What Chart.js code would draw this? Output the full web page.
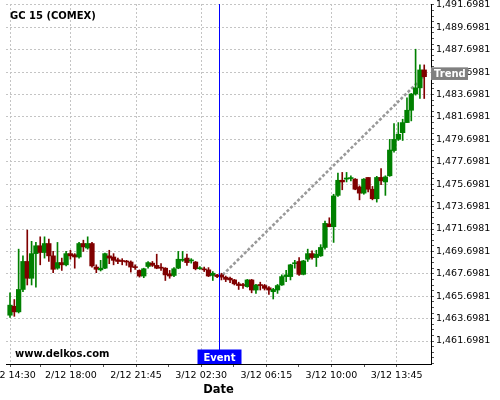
<!DOCTYPE html>
<html>
<head>
<meta charset="utf-8">
<title>GC 15 (COMEX)</title>
<script src="https://cdn.jsdelivr.net/npm/chart.js@4/dist/chart.umd.min.js"></script>
<style>
    html, body { margin: 0; padding: 0; background: #ffffff; }
    canvas { display: block; }
</style>
</head>
<body>
<canvas id="chart" width="500" height="400"></canvas>
<script>
// Candle values, one entry per 15 minute bar
const openVals = [
    1464.0, 1464.8, 1464.3, 1466.3, 1468.8, 1467.3, 1469.5, 1470.2, 1469.6, 1470.4,
    1469.3, 1468.2, 1468.7, 1468.5, 1469.5, 1469.4, 1469.2, 1470.4, 1470.0, 1470.4,
    1468.3, 1468.05, 1468.2, 1469.3, 1469.2, 1468.95, 1468.85, 1468.8, 1468.75, 1468.3,
    1468.0, 1467.5, 1468.35, 1468.65, 1468.45, 1468.25, 1468.2, 1467.7, 1467.55, 1468.2,
    1468.9, 1469.1, 1468.85, 1468.75, 1468.15, 1468.1, 1468.05, 1467.55, 1467.6, 1467.6,
    1467.4, 1467.3, 1467.15, 1466.8, 1466.7, 1466.55, 1467.15, 1466.25, 1466.7, 1466.65,
    1466.45, 1466.1, 1466.25, 1466.7, 1467.45, 1467.45, 1468.6, 1468.8, 1467.65, 1469.0,
    1469.5, 1469.15, 1469.3, 1470.05, 1472.15, 1471.9, 1474.7, 1476.05, 1476.15, 1476.2,
    1476.15, 1475.45, 1474.9, 1476.3, 1475.25, 1474.4, 1476.3, 1475.9, 1476.45, 1478.7,
    1479.7, 1480.3, 1481.2, 1482.3, 1483.75, 1484.3, 1485.9
];
const highVals = [
    1466.0, 1465.4, 1469.9, 1469.3, 1471.6, 1470.6, 1470.5, 1471.0, 1471.0, 1470.8,
    1469.7, 1470.5, 1469.1, 1469.7, 1469.8, 1469.5, 1470.5, 1470.7, 1471.0, 1470.5,
    1468.5, 1468.9, 1469.55, 1469.8, 1469.5, 1469.1, 1469.05, 1468.9, 1468.85, 1468.5,
    1468.05, 1468.2, 1468.8, 1468.8, 1469.45, 1468.6, 1468.25, 1468.0, 1468.25, 1469.7,
    1469.7, 1469.45, 1469.05, 1468.8, 1468.35, 1468.3, 1468.25, 1467.9, 1467.65, 1467.75,
    1467.5, 1467.4, 1467.2, 1466.95, 1466.85, 1467.2, 1467.2, 1466.75, 1466.95, 1466.75,
    1466.55, 1466.4, 1466.75, 1467.6, 1468.0, 1468.55, 1468.9, 1469.15, 1468.9, 1469.9,
    1469.75, 1469.8, 1470.3, 1472.4, 1472.7, 1474.8, 1476.7, 1476.75, 1476.75, 1476.45,
    1476.2, 1475.55, 1476.2, 1476.3, 1475.5, 1476.4, 1477.1, 1476.45, 1479.7, 1481.1,
    1481.2, 1481.5, 1483.4, 1483.8, 1487.75, 1486.35, 1486.35
];
const lowVals = [
    1463.8, 1463.9, 1464.2, 1466.1, 1466.7, 1466.7, 1466.5, 1468.5, 1469.1, 1468.8,
    1467.8, 1468.1, 1468.0, 1468.4, 1469.0, 1468.2, 1469.1, 1469.7, 1469.9, 1468.3,
    1467.8, 1467.95, 1468.15, 1468.6, 1468.5, 1468.6, 1468.5, 1468.45, 1467.85, 1468.1,
    1467.4, 1467.35, 1468.2, 1468.35, 1468.15, 1468.0, 1467.1, 1467.3, 1467.45, 1468.15,
    1468.8, 1468.45, 1468.65, 1468.05, 1468.1, 1467.9, 1467.45, 1467.1, 1467.35, 1467.15,
    1467.0, 1466.9, 1466.7, 1466.3, 1466.4, 1466.5, 1466.0, 1465.95, 1466.25, 1466.25,
    1465.85, 1465.45, 1465.95, 1466.65, 1467.0, 1467.15, 1468.2, 1467.55, 1467.6, 1468.8,
    1469.0, 1468.35, 1469.25, 1469.9, 1471.9, 1470.5, 1474.6, 1475.2, 1475.9, 1476.0,
    1475.2, 1474.3, 1474.8, 1475.0, 1474.3, 1474.1, 1475.65, 1474.7, 1476.4, 1478.55,
    1479.6, 1479.6, 1481.2, 1481.35, 1483.65, 1483.35, 1483.35
];
const closeVals = [
    1464.9, 1464.3, 1466.3, 1468.8, 1467.3, 1469.5, 1470.2, 1469.6, 1470.4, 1469.3,
    1468.1, 1468.7, 1468.5, 1469.5, 1469.3, 1469.2, 1470.4, 1470.1, 1470.4, 1468.4,
    1468.1, 1468.2, 1469.5, 1469.1, 1468.9, 1468.8, 1468.8, 1468.75, 1468.3, 1468.25,
    1467.5, 1468.15, 1468.7, 1468.45, 1468.2, 1468.2, 1467.6, 1467.5, 1468.15, 1469.0,
    1468.95, 1468.7, 1468.9, 1468.15, 1468.2, 1468.05, 1467.5, 1467.75, 1467.45, 1467.4,
    1467.2, 1467.15, 1466.8, 1466.65, 1466.65, 1467.15, 1466.25, 1466.7, 1466.65, 1466.4,
    1466.25, 1466.3, 1466.65, 1467.45, 1467.6, 1468.5, 1468.65, 1467.65, 1468.85, 1469.5,
    1469.15, 1469.45, 1470.05, 1472.2, 1471.9, 1474.65, 1476.05, 1475.9, 1476.25, 1476.25,
    1475.25, 1474.9, 1476.15, 1475.25, 1474.4, 1476.3, 1476.0, 1476.35, 1478.75, 1479.7,
    1480.15, 1481.2, 1482.3, 1483.75, 1484.3, 1485.9, 1485.3
];

// Date axis: bar position of each labelled tick and its text
const xTickIndex = [0, 14.1, 29.2, 44.3, 59.4, 74.5, 89.6];
const xTickLabels = ['2/12 14:30', '2/12 18:00', '2/12 21:45', '3/12 02:30', '3/12 06:15', '3/12 10:00', '3/12 13:45'];

// Price axis: first labelled tick, label step and minor tick step
const yTickStart = 1461.6981;
const yTickStep = 2;
const yMinorStep = 0.5;

// Annotations
const eventIndex = 48.5;
const trendX = [49.3, 96.5];
const trendY = [1467.6, 1485.55];

// Visible ranges of both axes
const xMin = -0.93, xMax = 97.57;
const yMin = 1459.645, yMax = 1491.787;

const FONT = "'DejaVu Sans', sans-serif";
const UP = '#008000';
const DOWN = '#800000';
const GRID = '#c4c4c4';
const CLEAR = 'rgba(0,0,0,0)';

function isMajorY(v) {
    if (v < yTickStart - 1e-6) return false;
    const k = (v - yTickStart) / yTickStep;
    return Math.abs(k - Math.round(k)) < 1e-6;
}

function formatPrice(v) {
    return v.toLocaleString('en-US', { minimumFractionDigits: 4, maximumFractionDigits: 4 });
}

// Date ticks alternate: labelled tick, then a minor tick halfway to the next one
function buildDateTicks() {
    const ticks = [];
    for (let i = 0; i < xTickIndex.length; i++) {
        const v = xTickIndex[i];
        const next = i + 1 < xTickIndex.length ? xTickIndex[i + 1] : v + 2 * (v - xTickIndex[i - 1]);
        ticks.push({ value: v });
        const mid = (v + next) / 2;
        if (mid <= xMax) ticks.push({ value: mid });
    }
    return ticks;
}

// Build the floating bars used for bodies and wicks
const bodies = openVals.map((o, i) => ({ x: i, y: [o, closeVals[i]] }));
const wicks = lowVals.map((l, i) => ({ x: i, y: [l, highVals[i]] }));
const candleColors = openVals.map((o, i) => closeVals[i] >= o ? UP : DOWN);
const trendPoints = trendX.map((x, i) => ({ x: x, y: trendY[i] }));

// Texts and markers drawn on top of the plot
const overlayPlugin = {
    id: 'overlay',
    afterDraw(chart) {
        const ctx = chart.ctx;
        const area = chart.chartArea;
        const xs = chart.scales.x;
        const ys = chart.scales.y;
        ctx.save();

        // Title and watermark
        ctx.fillStyle = '#000000';
        ctx.font = 'bold 10px ' + FONT;
        ctx.textAlign = 'left';
        ctx.textBaseline = 'alphabetic';
        ctx.fillText('GC 15 (COMEX)', 10, 19);
        ctx.fillText('www.delkos.com', 15, 357);

        // Event marker
        const ex = Math.round(xs.getPixelForValue(eventIndex)) + 0.5;
        ctx.strokeStyle = '#0000ff';
        ctx.lineWidth = 1;
        ctx.beginPath();
        ctx.moveTo(ex, area.top);
        ctx.lineTo(ex, area.bottom);
        ctx.stroke();
        ctx.fillStyle = '#0000ff';
        ctx.fillRect(ex - 22, area.bottom - 14.5, 44, 14.5);
        ctx.fillStyle = '#ffffff';
        ctx.textAlign = 'center';
        ctx.fillText('Event', ex, area.bottom - 3.5);

        // Trend label on the price axis
        const ty = ys.getPixelForValue(trendY[1]);
        ctx.fillStyle = '#808080';
        ctx.fillRect(area.right, ty - 6.5, 37, 12.6);
        ctx.fillStyle = '#ffffff';
        ctx.textAlign = 'left';
        ctx.fillText('Trend', area.right + 3, ty + 3.4);

        // Axis title
        ctx.fillStyle = '#000000';
        ctx.font = 'bold 11.5px ' + FONT;
        ctx.textAlign = 'center';
        ctx.fillText('Date', (area.left + area.right) / 2, 393);

        ctx.restore();
    }
};

new Chart(document.getElementById('chart'), {
    type: 'bar',
    data: {
        datasets: [
            {
                type: 'line',
                data: trendPoints,
                borderColor: '#999999',
                borderWidth: 2.6,
                borderDash: [3, 2],
                pointRadius: 0,
                fill: false,
                order: 2
            },
            {
                data: wicks,
                backgroundColor: candleColors,
                borderWidth: 0,
                barThickness: 1,
                grouped: false,
                order: 1
            },
            {
                data: bodies,
                backgroundColor: candleColors,
                borderWidth: 0,
                barThickness: 4.6,
                minBarLength: 1,
                grouped: false,
                order: 0
            }
        ]
    },
    options: {
        responsive: false,
        animation: false,
        layout: { padding: { left: 6, top: 4, right: 0, bottom: 0 } },
        plugins: {
            legend: { display: false },
            tooltip: { enabled: false }
        },
        scales: {
            x: {
                type: 'linear',
                position: 'bottom',
                min: xMin,
                max: xMax,
                offset: false,
                afterBuildTicks: function(scale) {
                    scale.ticks = buildDateTicks();
                },
                afterFit: function(scale) {
                    scale.height = 36;
                    scale.paddingLeft = 0;
                    scale.paddingRight = 0;
                },
                grid: {
                    offset: false,
                    color: c => (c.type === 'tick' && c.index % 2 === 0) ? GRID : CLEAR,
                    tickColor: '#555555',
                    tickLength: 3,
                    lineWidth: 1
                },
                border: { display: true, color: '#000000', width: 1, dash: [2, 2] },
                ticks: {
                    autoSkip: false,
                    maxRotation: 0,
                    padding: 3,
                    color: '#000000',
                    font: { family: FONT, size: 9.5 },
                    callback: function(value, index) {
                        return index % 2 === 0 ? xTickLabels[index / 2] : '';
                    }
                }
            },
            y: {
                type: 'linear',
                position: 'right',
                min: yMin,
                max: yMax,
                afterBuildTicks: function(scale) {
                    const ticks = [];
                    for (let k = -8; k <= 80; k++) {
                        const v = yTickStart + k * yMinorStep;
                        if (v >= yMin && v <= yMax) ticks.push({ value: v });
                    }
                    scale.ticks = ticks;
                },
                afterFit: function(scale) {
                    scale.width = 69;
                    scale.paddingTop = 0;
                    scale.paddingBottom = 0;
                },
                grid: {
                    color: c => (c.type === 'tick' && isMajorY(c.tick.value)) ? GRID : CLEAR,
                    tickColor: '#555555',
                    tickLength: 3,
                    lineWidth: 1
                },
                border: { display: true, color: '#000000', width: 1, dash: [2, 2] },
                ticks: {
                    autoSkip: false,
                    padding: 2,
                    color: '#000000',
                    font: { family: FONT, size: 9.5 },
                    callback: function(value) {
                        return isMajorY(value) ? formatPrice(value) : '';
                    }
                }
            }
        }
    },
    plugins: [overlayPlugin]
});
</script>
</body>
</html>
